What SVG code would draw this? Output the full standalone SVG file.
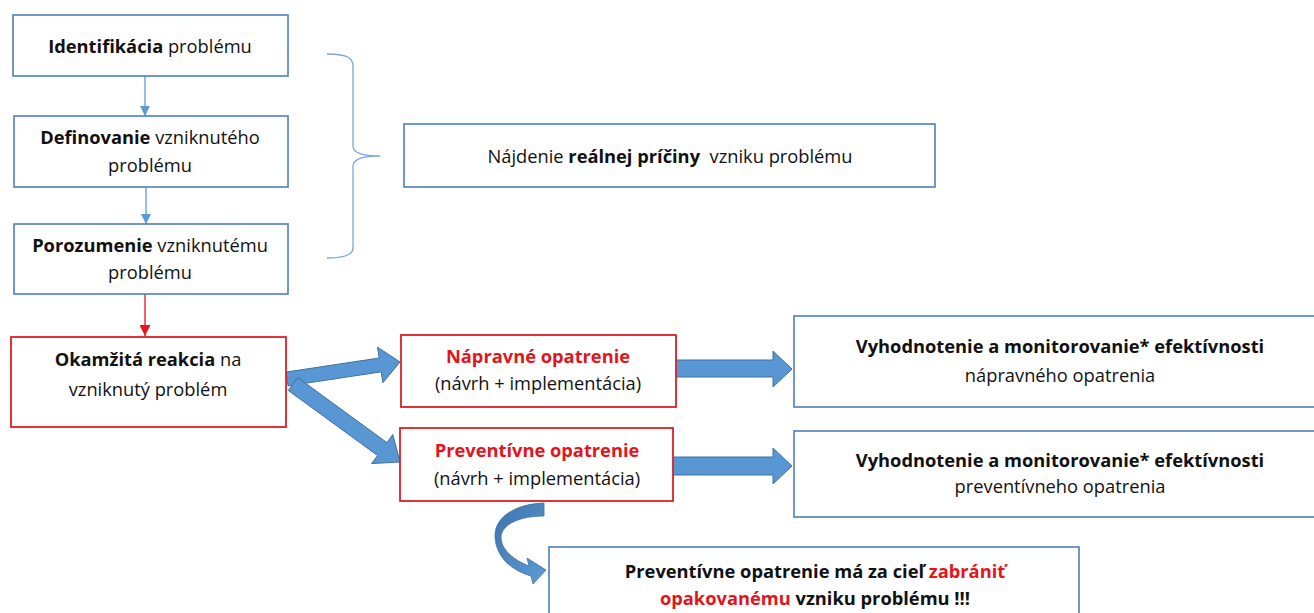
<svg xmlns="http://www.w3.org/2000/svg" width="1314" height="613" viewBox="0 0 1314 613">
<defs>
<style>
.bb{fill:#fff;stroke:#4f7dc0;stroke-width:1.6}
.rb{fill:#fff;stroke:#dc1f26;stroke-width:1.8}
text{font-family:"Open Sans","Liberation Sans",sans-serif;font-size:18.3px;fill:#111;text-anchor:middle;white-space:pre}
.b{font-weight:bold}
.r{fill:#e3141c}
.blk{fill:#5896d4;stroke:#41719c;stroke-width:1}
.thin{stroke:#5b9bd5;stroke-width:1.3;fill:none}
.thinr{stroke:#e8131b;stroke-width:1.3;fill:none}
</style>
<marker id="ab" viewBox="0 0 10 10" refX="10" refY="5" markerWidth="10" markerHeight="10" markerUnits="userSpaceOnUse" orient="auto"><path d="M0,0 L10,5 L0,10 Z" fill="#5b9bd5"/></marker>
<marker id="ar" viewBox="0 0 10 10" refX="10" refY="5" markerWidth="11" markerHeight="11" markerUnits="userSpaceOnUse" orient="auto"><path d="M0,0 L10,5 L0,10 Z" fill="#e8131b"/></marker>
<linearGradient id="cg" x1="0" y1="0" x2="1" y2="1"><stop offset="0" stop-color="#3f74ad"/><stop offset="1" stop-color="#5b9bd5"/></linearGradient>
</defs>

<g id="connectors">
<line class="thin" x1="145" y1="76" x2="145" y2="116" marker-end="url(#ab)"/>
<line class="thin" x1="146" y1="187" x2="146" y2="224" marker-end="url(#ab)"/>
<line class="thinr" x1="145" y1="294" x2="145" y2="336" marker-end="url(#ar)"/>
<path d="M327,54 C345,54 353,57 353,66 L353,146 C353,153 362,156 380,156 C362,156 353,159 353,166 L353,248 C353,255 345,258 327,258" fill="none" stroke="#7fa7d9" stroke-width="1.3"/>
<polygon class="blk" points="285.97,372.08 379.17,358.03 377.55,347.15 400,362 382.9,382.75 381.23,371.87 288.03,385.92"/>
<polygon class="blk" points="297.71,377.54 386.93,442.58 392.82,434.5 400,462 371.62,463.58 377.51,455.5 288.29,390.46"/>
<polygon class="blk" points="676,360 773,360 773,351 792,369 773,387 773,377 676,377"/>
<polygon class="blk" points="673,457 773,457 773,448 792,466 773,484 773,475 673,475"/>
<path d="M544,503 C514,504 494,518 495,537 C496,556 510,570 531,576 L533,584 L546,570 L527,558 L529,566 C514,560 501,550 501,537 C502,524 520,516 544,516 Z" fill="url(#cg)" stroke="#41719c" stroke-width="0.8"/>
</g>

<g id="n1"><rect class="bb" x="13" y="15" width="275" height="61"/>
<text x="150" y="53"><tspan class="b">Identifikácia</tspan> problému</text></g>

<g id="n2"><rect class="bb" x="14" y="116" width="274" height="71"/>
<text x="150" y="144"><tspan class="b">Definovanie</tspan> vzniknutého</text>
<text x="150" y="172">problému</text></g>

<g id="n3"><rect class="bb" x="14" y="224" width="274" height="70"/>
<text x="150" y="252"><tspan class="b">Porozumenie</tspan> vzniknutému</text>
<text x="150" y="279">problému</text></g>

<g id="n4"><rect class="bb" x="404" y="124" width="531" height="63"/>
<text x="670" y="163">Nájdenie <tspan class="b">reálnej príčiny</tspan>  vzniku problému</text></g>

<g id="n5"><rect class="rb" x="11" y="337" width="275" height="90"/>
<text x="148" y="366"><tspan class="b">Okamžitá reakcia</tspan> na</text>
<text x="148" y="396">vzniknutý problém</text></g>

<g id="n6"><rect class="rb" x="401" y="335" width="275" height="72"/>
<text x="538" y="363" class="b r">Nápravné opatrenie</text>
<text x="538" y="390">(návrh + implementácia)</text></g>

<g id="n7"><rect class="rb" x="400" y="428" width="273" height="73"/>
<text x="537" y="457" class="b r">Preventívne opatrenie</text>
<text x="537" y="485">(návrh + implementácia)</text></g>

<g id="n8"><rect class="bb" x="794" y="316" width="522" height="91"/>
<text x="1060" y="353" class="b">Vyhodnotenie a monitorovanie* efektívnosti</text>
<text x="1060" y="382">nápravného opatrenia</text></g>

<g id="n9"><rect class="bb" x="794" y="431" width="522" height="86"/>
<text x="1060" y="467" class="b">Vyhodnotenie a monitorovanie* efektívnosti</text>
<text x="1060" y="493">preventívneho opatrenia</text></g>

<g id="n10"><rect class="bb" x="549" y="547" width="530" height="80"/>
<text x="815" y="578" class="b">Preventívne opatrenie má za cieľ <tspan class="r">zabrániť</tspan></text>
<text x="815" y="605" class="b"><tspan class="r">opakovanému</tspan> vzniku problému !!!</text></g>
</svg>
